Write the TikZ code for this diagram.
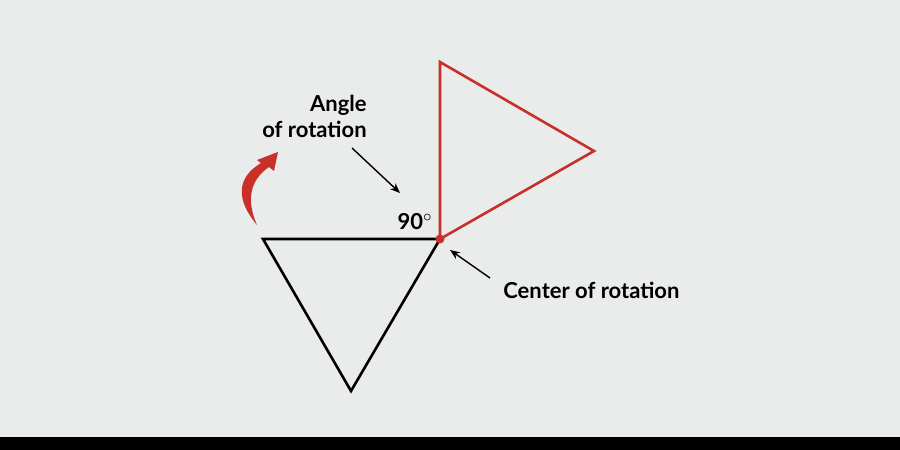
\documentclass[tikz,border=0pt]{standalone}
\usepackage{fontspec}
\setmainfont{Lato}
\usetikzlibrary{arrows.meta}
\definecolor{bg}{HTML}{E9ECEB}
\definecolor{rd}{HTML}{C8302A}
\begin{document}
\begin{tikzpicture}[x=0.5pt,y=-0.5pt,
  lbl/.style={font=\fontsize{11}{13}\selectfont\bfseries,inner sep=0pt},
  ptr/.style={-{Stealth[length=5pt,width=4pt]},line width=0.7pt}]
\fill[bg] (0,0) rectangle (900,450);
\fill[black] (0,437) rectangle (900,450);
\coordinate (a) at (263,239); \coordinate (c) at (440,239); \coordinate (b) at (351,391);
\coordinate (r1) at (440,62); \coordinate (r2) at (594,151);
\draw[line width=1.3pt,line join=miter] (a) -- (c) -- (b) -- cycle;
\draw[rd,line width=1.3pt] (c) -- (r1) -- (r2) -- cycle;
\fill[rd] (c) circle (4.5);
\node[lbl,anchor=east,align=right] (ang) at (367,116) {Angle\\of rotation};
\coordinate (as) at (352,148);
\coordinate (ae) at (400,193);
\draw[ptr] (as) -- (ae);
\node[lbl,anchor=south east] (ninety) at (433,230) {90$^{\circ}$};
\node[lbl,anchor=west] (cen) at (503,290) {Center of rotation};
\coordinate (cs) at (490,278);
\coordinate (ce) at (450,250);
\draw[ptr] (cs) -- (ce);
\fill[rd] (257,225) .. controls (236,200) and (236,178) .. (261,163)
  -- (257,160) -- (278,152) -- (274,171) -- (269,167)
  .. controls (250,180) and (246,200) .. (257,225) -- cycle;
\end{tikzpicture}
\end{document}
